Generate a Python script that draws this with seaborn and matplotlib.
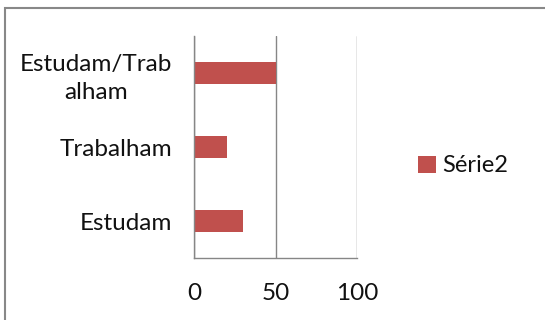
import matplotlib
matplotlib.use("Agg")
import matplotlib.pyplot as plt
import matplotlib.patches as mpatches
import seaborn as sns
import pandas as pd

categories = ["Estudam/Trab\nalham", "Trabalham", "Estudam"]
values = [50, 20, 30]
series_name = "Série2"
x_ticks = [0, 50, 100]

sns.set_theme(style="white")
plt.rcParams["font.family"] = ["Lato", "DejaVu Sans"]

bar_color = "#C0504D"
line_color = "#868686"
text_color = "#111111"
fs = 17.5

df = pd.DataFrame({"cat": categories, "val": values, "serie": series_name})

fig = plt.figure(figsize=(5.45, 3.2), dpi=100)
ax = fig.add_axes([194 / 545, 1 - 258 / 320, (357 - 194) / 545, (258 - 36) / 320])

sns.barplot(data=df, x="val", y="cat", hue="serie", palette=[bar_color],
            orient="h", width=0.3, ax=ax, legend=False,
            linewidth=0, edgecolor="none", saturation=1)

ax.set_xlim(0, 100)
ax.set_ylim(2.5, -0.5)
ax.set_xticks(x_ticks)
ax.set_xticklabels([str(t) for t in x_ticks], fontsize=fs, color=text_color)
ax.set_yticks(range(len(categories)))
ax.set_yticklabels(categories, fontsize=fs, color=text_color)
for lbl in ax.get_yticklabels():
    lbl.set_multialignment("center")
    lbl.set_linespacing(1.4)
ax.set_xlabel("")
ax.set_ylabel("")

# category boundaries as minor ticks
ax.set_yticks([-0.5, 0.5, 1.5, 2.5], minor=True)
ax.tick_params(axis="y", which="major", length=0, pad=16)
ax.tick_params(axis="y", which="minor", length=9, width=1, color=line_color, direction="out")
ax.tick_params(axis="x", which="major", length=10, width=1, color=line_color,
               direction="out", pad=8)

ax.xaxis.grid(True, color=line_color, linewidth=1)
ax.yaxis.grid(False)
ax.set_axisbelow(True)
for side in ["top", "right"]:
    ax.spines[side].set_visible(False)
for side in ["left", "bottom"]:
    ax.spines[side].set_color(line_color)
    ax.spines[side].set_linewidth(1)

# legend
handle = mpatches.Patch(facecolor=bar_color, edgecolor="none", label=series_name)
fig.legend(handles=[handle], loc="center left", bbox_to_anchor=(397 / 545, 1 - 166 / 320),
           frameon=False, fontsize=17, handlelength=0.75, handleheight=0.75,
           handletextpad=0.25, labelcolor=text_color)

# outer frame
frame = mpatches.Rectangle((5 / 545, -0.1), 1.2, 1 - 8 / 320 + 0.1,
                           transform=fig.transFigure, fill=False,
                           edgecolor="#888888", linewidth=1.5)
fig.patches.append(frame)

fig.savefig("out.png", dpi=100)
